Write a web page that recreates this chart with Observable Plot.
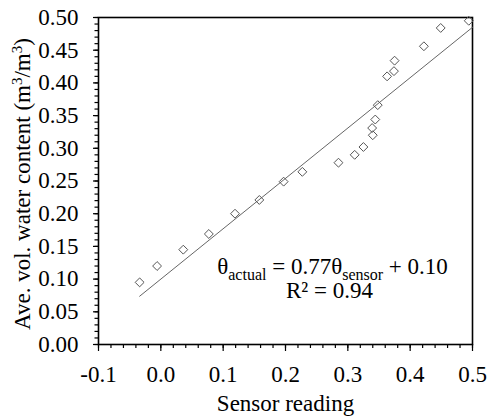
<!DOCTYPE html>
<html><head><meta charset="utf-8">
<script src="https://cdn.jsdelivr.net/npm/d3@7"></script>
<script src="https://cdn.jsdelivr.net/npm/@observablehq/plot@0.6"></script>
<style>body{margin:0;background:#fff} svg text{font-family:"Liberation Serif",serif}</style>
</head><body><div id="chart"></div>
<script>
const sensorReading = [-0.034, -0.006, 0.036, 0.077, 0.119, 0.158, 0.197, 0.227, 0.285, 0.311, 0.325, 0.340, 0.339, 0.344, 0.348, 0.363, 0.374, 0.375, 0.422, 0.449, 0.494];
const waterContent  = [0.095, 0.120, 0.145, 0.169, 0.200, 0.221, 0.249, 0.264, 0.278, 0.290, 0.302, 0.320, 0.331, 0.344, 0.366, 0.410, 0.418, 0.434, 0.456, 0.484, 0.495];
const fitSlope = 0.77, fitIntercept = 0.10;
const fitRange = [-0.034, 0.5];
const xMajorTicks = [-0.1, 0, 0.1, 0.2, 0.3, 0.4, 0.5];
const xMinorTicks = d3.range(-10, 51, 2).map(d => d / 100);
const yMajorTicks = [0, 0.05, 0.1, 0.15, 0.2, 0.25, 0.3, 0.35, 0.4, 0.45, 0.5];
const yMinorTicks = d3.range(0, 51, 1).map(d => d / 100);
const xLabel = "Sensor reading";
const yLabel = "Ave. vol. water content (m3/m3)";
const eqText = "θactual = 0.77θsensor + 0.10";
const r2Text = "R² = 0.94";

const points = sensorReading.map((x, i) => ({x, y: waterContent[i]}));
const fit = fitRange.map(x => ({x, y: fitSlope * x + fitIntercept}));

const font = "Liberation Serif";
const chart = Plot.plot({
  width: 489, height: 417,
  marginLeft: 98, marginRight: 17, marginTop: 17, marginBottom: 73,
  style: {fontFamily: font, fontSize: "23px", color: "#000", background: "#fff"},
  x: {domain: [-0.1, 0.5]},
  y: {domain: [0, 0.5]},
  marks: [
    Plot.axisX({ticks: xMinorTicks, tickSize: 4, text: null, label: null, strokeWidth: 1.2}),
    Plot.axisX({ticks: xMajorTicks, tickSize: 7, tickPadding: 14, tickFormat: d => d.toFixed(1), label: null, strokeWidth: 1.2, fontSize: 23, fontFamily: font}),
    Plot.axisY({ticks: yMinorTicks, tickSize: 3.5, text: null, label: null, strokeWidth: 1.2}),
    Plot.axisY({ticks: yMajorTicks, tickSize: 5, tickPadding: 15, tickFormat: d => d.toFixed(2), label: null, strokeWidth: 1.2, fontSize: 23, fontFamily: font}),
    Plot.frame({stroke: "#000", strokeWidth: 1.6}),
    Plot.line(fit, {x: "x", y: "y", stroke: "#666", strokeWidth: 1}),
    Plot.dot(points, {x: "x", y: "y", symbol: "diamond2", r: 4, stroke: "#555", strokeWidth: 1, fill: "none"}),
    Plot.text([eqText], {x: 0.2754, y: 0.119, text: d => d, fontSize: 23, textAnchor: "middle", fontFamily: font}),
    Plot.text([r2Text], {x: 0.2706, y: 0.083, text: d => d, fontSize: 23, textAnchor: "middle", fontFamily: font}),
    Plot.text([xLabel], {frameAnchor: "bottom", dy: 59, text: d => d, fontSize: 23, textAnchor: "middle", lineAnchor: "middle", fontFamily: font}),
    Plot.text([yLabel], {frameAnchor: "left", dx: -76, dy: 3, rotate: -90, text: d => d, fontSize: 23, textAnchor: "middle", lineAnchor: "middle", fontFamily: font})
  ]
});
document.getElementById("chart").appendChild(chart);

// rich text: subscripts / superscripts
const svg = d3.select(chart);
svg.selectAll("text").each(function() {
  const t = d3.select(this);
  const s = t.text();
  if (s === eqText) {
    t.text(null);
    const parts = [["θ", 0], ["actual", 1], [" = 0.77θ", 0], ["sensor", 1], [" + 0.10", 0]];
    let shifted = false;
    for (const [str, sub] of parts) {
      const sp = t.append("tspan").text(str);
      if (sub) { sp.attr("font-size", 16).attr("dy", "6"); shifted = true; }
      else if (shifted) { sp.attr("dy", "-6"); shifted = false; }
    }
  } else if (s === yLabel) {
    t.text(null);
    t.append("tspan").text("Ave. vol. water content (m");
    t.append("tspan").text("3").attr("font-size", 15).attr("dy", "-8");
    t.append("tspan").text("/m").attr("dy", "8");
    t.append("tspan").text("3").attr("font-size", 15).attr("dy", "-8");
    t.append("tspan").text(")").attr("dy", "8");
  }
});
</script>
</body></html>
